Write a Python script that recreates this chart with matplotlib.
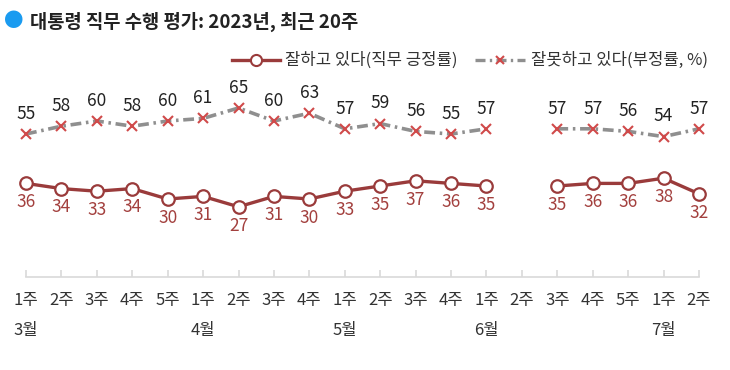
import numpy as np
import matplotlib
matplotlib.use('Agg')
import matplotlib.pyplot as plt
from matplotlib.lines import Line2D

plt.rcParams['font.family'] = ['Noto Sans CJK KR', 'DejaVu Sans']

weeks = ['1주', '2주', '3주', '4주', '5주', '1주', '2주', '3주', '4주', '1주',
         '2주', '3주', '4주', '1주', '2주', '3주', '4주', '5주', '1주', '2주']
months = {0: '3월', 5: '4월', 9: '5월', 13: '6월', 18: '7월'}
positive = [36, 34, 33, 34, 30, 31, 27, 31, 30, 33, 35, 37, 36, 35, np.nan, 35, 36, 36, 38, 32]
negative = [55, 58, 60, 58, 60, 61, 65, 60, 63, 57, 59, 56, 55, 57, np.nan, 57, 57, 56, 54, 57]

pos_color = '#9a3b3b'
pos_text = '#a3403e'
neg_line = '#8f8f8f'
neg_mark = '#d04a4a'

fig = plt.figure(figsize=(7.3, 3.7), dpi=100)
ax = fig.add_axes([26 / 730, 93 / 370, 673 / 730, 208 / 370])
x = np.arange(len(weeks))

ax.plot(x, negative, color=neg_line, lw=2.6, dashes=[3, 1.3, 0.7, 1.3], zorder=2, clip_on=False)
ax.plot(x, negative, ls='none', marker='x', ms=6.5, mew=1.5, color=neg_mark, zorder=3, clip_on=False)
ax.plot(x, positive, color=pos_color, lw=2.4, marker='o', ms=9, mfc='white', mec=pos_color,
        mew=1.6, zorder=4, clip_on=False)

for i in range(len(weeks)):
    if not np.isnan(negative[i]):
        ax.annotate(f'{negative[i]:.0f}', (x[i], negative[i]), xytext=(0, 8), textcoords='offset points',
                    ha='center', va='bottom', fontsize=12.5, color='#222222')
    if not np.isnan(positive[i]):
        ax.annotate(f'{positive[i]:.0f}', (x[i], positive[i]), xytext=(0, -7), textcoords='offset points',
                    ha='center', va='top', fontsize=12.5, color=pos_text)

ax.set_xlim(0, len(weeks) - 1)
ax.set_ylim(0, 80)
ax.set_xticks(x)
ax.set_xticklabels(weeks, fontsize=12, color='#333333')
ax.set_yticks([])
for s in ['top', 'right', 'left']:
    ax.spines[s].set_visible(False)
ax.spines['bottom'].set_color('#d9d9d9')
ax.spines['bottom'].set_linewidth(1.2)
ax.tick_params(axis='x', direction='in', length=5, width=1.2, color='#d9d9d9', pad=11)

for i, m in months.items():
    ax.text(i, -0.255, m, transform=ax.get_xaxis_transform(), ha='center', va='center',
            fontsize=12, color='#333333')

# title
fig.text(14 / 730, 1 - 22 / 370, '\u25cf', color='#1a9bf0', fontsize=14, ha='center', va='center')
fig.text(30 / 730, 1 - 22 / 370, '대통령 직무 수행 평가: 2023년, 최근 20주', fontsize=13.5,
         fontweight='bold', color='#222222', ha='left', va='center')

# legend
ly = 1 - 60 / 370
fig.add_artist(Line2D([232 / 730, 280 / 730], [ly, ly], color=pos_color, lw=2.4))
fig.add_artist(Line2D([256 / 730], [ly], marker='o', ms=8, mfc='white', mec=pos_color, mew=1.5))
fig.text(285 / 730, ly, '잘하고 있다(직무 긍정률)', fontsize=12, color='#333333', ha='left', va='center')
fig.add_artist(Line2D([475 / 730, 525 / 730], [ly, ly], color=neg_line, lw=2.4, dashes=[3, 1.3, 0.7, 1.3]))
fig.add_artist(Line2D([500 / 730], [ly], marker='x', ms=6, mew=1.5, color=neg_mark))
fig.text(531 / 730, ly, '잘못하고 있다(부정률, %)', fontsize=12, color='#333333', ha='left', va='center')

fig.savefig('out.png', dpi=100)
